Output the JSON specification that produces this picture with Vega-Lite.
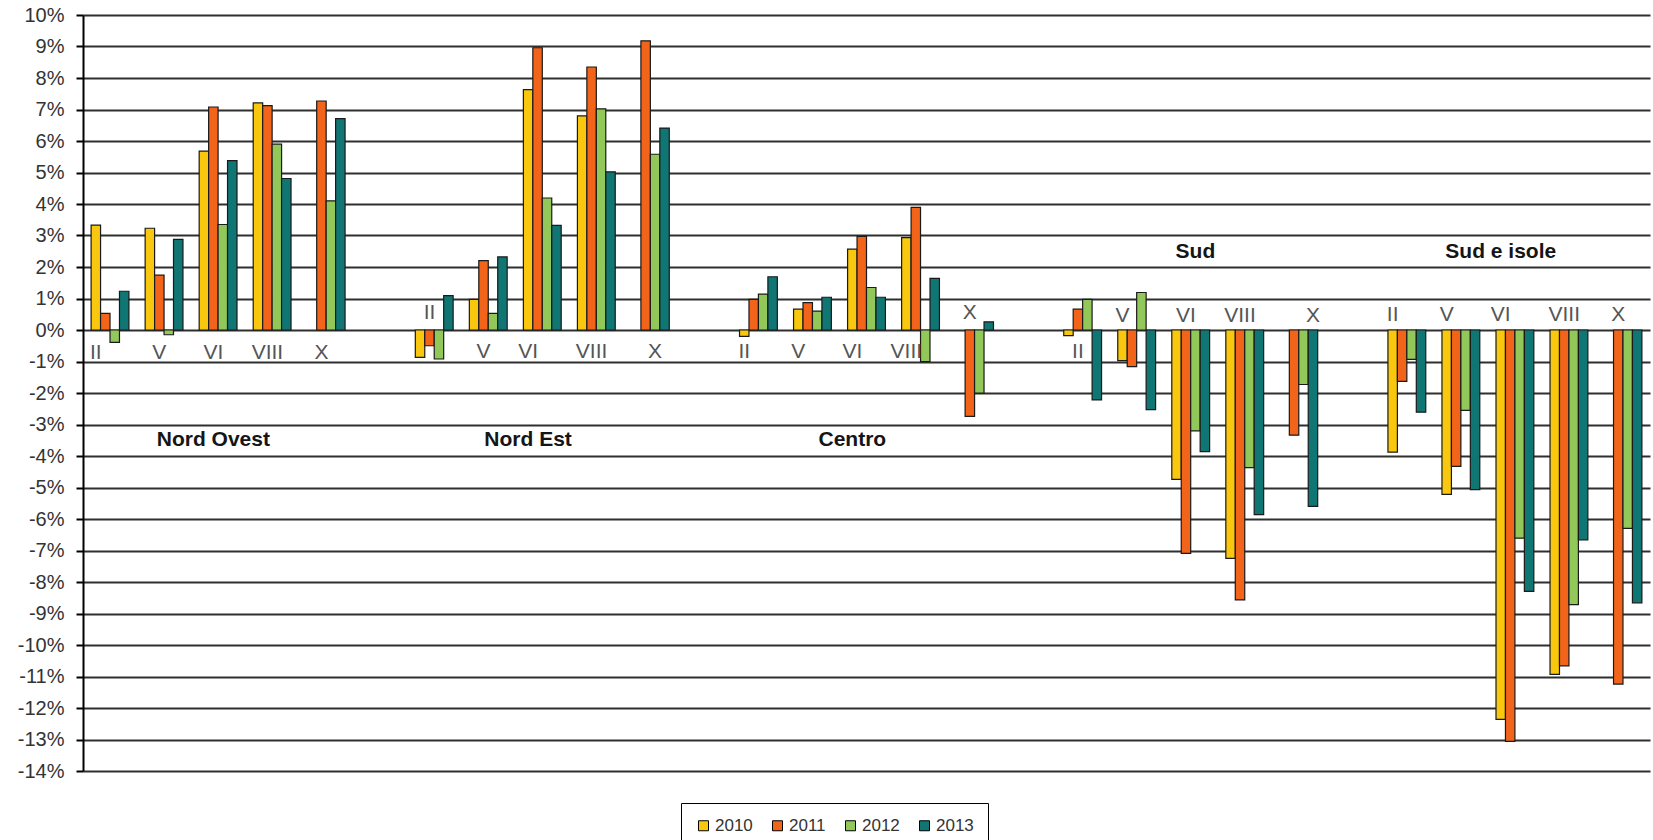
{
  "$schema": "https://vega.github.io/schema/vega-lite/v6.json",
  "autosize": {"type": "none"},
  "width": 1567,
  "height": 756,
  "padding": {"left": 83, "top": 15, "right": 3, "bottom": 69},
  "background": "white",
  "config": {"view": {"stroke": null}, "font": "Liberation Sans"},
  "datasets": {
    "bars": [
      {"slot": "NO|II", "year": "2010", "value": 3.33}, {"slot": "NO|II", "year": "2011", "value": 0.53}, {"slot": "NO|II", "year": "2012", "value": -0.39}, {"slot": "NO|II", "year": "2013", "value": 1.23},
      {"slot": "NO|V", "year": "2010", "value": 3.23}, {"slot": "NO|V", "year": "2011", "value": 1.74}, {"slot": "NO|V", "year": "2012", "value": -0.15}, {"slot": "NO|V", "year": "2013", "value": 2.88},
      {"slot": "NO|VI", "year": "2010", "value": 5.68}, {"slot": "NO|VI", "year": "2011", "value": 7.08}, {"slot": "NO|VI", "year": "2012", "value": 3.35}, {"slot": "NO|VI", "year": "2013", "value": 5.38},
      {"slot": "NO|VIII", "year": "2010", "value": 7.21}, {"slot": "NO|VIII", "year": "2011", "value": 7.12}, {"slot": "NO|VIII", "year": "2012", "value": 5.9}, {"slot": "NO|VIII", "year": "2013", "value": 4.81},
      {"slot": "NO|X", "year": "2011", "value": 7.27}, {"slot": "NO|X", "year": "2012", "value": 4.1}, {"slot": "NO|X", "year": "2013", "value": 6.71},
      {"slot": "NE|II", "year": "2010", "value": -0.87}, {"slot": "NE|II", "year": "2011", "value": -0.5}, {"slot": "NE|II", "year": "2012", "value": -0.92}, {"slot": "NE|II", "year": "2013", "value": 1.09},
      {"slot": "NE|V", "year": "2010", "value": 0.97}, {"slot": "NE|V", "year": "2011", "value": 2.2}, {"slot": "NE|V", "year": "2012", "value": 0.53}, {"slot": "NE|V", "year": "2013", "value": 2.32},
      {"slot": "NE|VI", "year": "2010", "value": 7.63}, {"slot": "NE|VI", "year": "2011", "value": 8.96}, {"slot": "NE|VI", "year": "2012", "value": 4.19}, {"slot": "NE|VI", "year": "2013", "value": 3.32},
      {"slot": "NE|VIII", "year": "2010", "value": 6.8}, {"slot": "NE|VIII", "year": "2011", "value": 8.35}, {"slot": "NE|VIII", "year": "2012", "value": 7.02}, {"slot": "NE|VIII", "year": "2013", "value": 5.02},
      {"slot": "NE|X", "year": "2011", "value": 9.18}, {"slot": "NE|X", "year": "2012", "value": 5.58}, {"slot": "NE|X", "year": "2013", "value": 6.41},
      {"slot": "C|II", "year": "2010", "value": -0.2}, {"slot": "C|II", "year": "2011", "value": 0.97}, {"slot": "C|II", "year": "2012", "value": 1.14}, {"slot": "C|II", "year": "2013", "value": 1.69},
      {"slot": "C|V", "year": "2010", "value": 0.66}, {"slot": "C|V", "year": "2011", "value": 0.87}, {"slot": "C|V", "year": "2012", "value": 0.6}, {"slot": "C|V", "year": "2013", "value": 1.04},
      {"slot": "C|VI", "year": "2010", "value": 2.57}, {"slot": "C|VI", "year": "2011", "value": 2.97}, {"slot": "C|VI", "year": "2012", "value": 1.35}, {"slot": "C|VI", "year": "2013", "value": 1.04},
      {"slot": "C|VIII", "year": "2010", "value": 2.93}, {"slot": "C|VIII", "year": "2011", "value": 3.89}, {"slot": "C|VIII", "year": "2012", "value": -1.0}, {"slot": "C|VIII", "year": "2013", "value": 1.64},
      {"slot": "C|X", "year": "2011", "value": -2.74}, {"slot": "C|X", "year": "2012", "value": -2.0}, {"slot": "C|X", "year": "2013", "value": 0.26},
      {"slot": "S|II", "year": "2010", "value": -0.18}, {"slot": "S|II", "year": "2011", "value": 0.66}, {"slot": "S|II", "year": "2012", "value": 0.97}, {"slot": "S|II", "year": "2013", "value": -2.22},
      {"slot": "S|V", "year": "2010", "value": -0.97}, {"slot": "S|V", "year": "2011", "value": -1.16}, {"slot": "S|V", "year": "2012", "value": 1.19}, {"slot": "S|V", "year": "2013", "value": -2.53},
      {"slot": "S|VI", "year": "2010", "value": -4.74}, {"slot": "S|VI", "year": "2011", "value": -7.09}, {"slot": "S|VI", "year": "2012", "value": -3.2}, {"slot": "S|VI", "year": "2013", "value": -3.86},
      {"slot": "S|VIII", "year": "2010", "value": -7.25}, {"slot": "S|VIII", "year": "2011", "value": -8.57}, {"slot": "S|VIII", "year": "2012", "value": -4.37}, {"slot": "S|VIII", "year": "2013", "value": -5.86},
      {"slot": "S|X", "year": "2011", "value": -3.34}, {"slot": "S|X", "year": "2012", "value": -1.73}, {"slot": "S|X", "year": "2013", "value": -5.6},
      {"slot": "SI|II", "year": "2010", "value": -3.88}, {"slot": "SI|II", "year": "2011", "value": -1.63}, {"slot": "SI|II", "year": "2012", "value": -0.93}, {"slot": "SI|II", "year": "2013", "value": -2.61},
      {"slot": "SI|V", "year": "2010", "value": -5.22}, {"slot": "SI|V", "year": "2011", "value": -4.33}, {"slot": "SI|V", "year": "2012", "value": -2.55}, {"slot": "SI|V", "year": "2013", "value": -5.07},
      {"slot": "SI|VI", "year": "2010", "value": -12.36}, {"slot": "SI|VI", "year": "2011", "value": -13.06}, {"slot": "SI|VI", "year": "2012", "value": -6.61}, {"slot": "SI|VI", "year": "2013", "value": -8.3},
      {"slot": "SI|VIII", "year": "2010", "value": -10.93}, {"slot": "SI|VIII", "year": "2011", "value": -10.66}, {"slot": "SI|VIII", "year": "2012", "value": -8.72}, {"slot": "SI|VIII", "year": "2013", "value": -6.66},
      {"slot": "SI|X", "year": "2011", "value": -11.24}, {"slot": "SI|X", "year": "2012", "value": -6.3}, {"slot": "SI|X", "year": "2013", "value": -8.66}
    ],
    "cats": [
      {"slot": "NO|II", "year": "2010", "value": -0.73, "label": "II"},
      {"slot": "NO|V", "year": "2011", "value": -0.73, "label": "V"},
      {"slot": "NO|VI", "year": "2011", "value": -0.73, "label": "VI"},
      {"slot": "NO|VIII", "year": "2011", "value": -0.73, "label": "VIII"},
      {"slot": "NO|X", "year": "2011", "value": -0.73, "label": "X"},
      {"slot": "NE|II", "year": "2011", "value": 0.54, "label": "II"},
      {"slot": "NE|V", "year": "2011", "value": -0.69, "label": "V"},
      {"slot": "NE|VI", "year": "2010", "value": -0.69, "label": "VI"},
      {"slot": "NE|VIII", "year": "2011", "value": -0.69, "label": "VIII"},
      {"slot": "NE|X", "year": "2012", "value": -0.69, "label": "X"},
      {"slot": "C|II", "year": "2010", "value": -0.69, "label": "II"},
      {"slot": "C|V", "year": "2010", "value": -0.69, "label": "V"},
      {"slot": "C|VI", "year": "2010", "value": -0.69, "label": "VI"},
      {"slot": "C|VIII", "year": "2010", "value": -0.69, "label": "VIII"},
      {"slot": "C|X", "year": "2011", "value": 0.54, "label": "X"},
      {"slot": "S|II", "year": "2011", "value": -0.69, "label": "II"},
      {"slot": "S|V", "year": "2010", "value": 0.43, "label": "V"},
      {"slot": "S|VI", "year": "2011", "value": 0.43, "label": "VI"},
      {"slot": "S|VIII", "year": "2011", "value": 0.43, "label": "VIII"},
      {"slot": "S|X", "year": "2013", "value": 0.43, "label": "X"},
      {"slot": "SI|II", "year": "2010", "value": 0.48, "label": "II"},
      {"slot": "SI|V", "year": "2010", "value": 0.48, "label": "V"},
      {"slot": "SI|VI", "year": "2010", "value": 0.48, "label": "VI"},
      {"slot": "SI|VIII", "year": "2011", "value": 0.48, "label": "VIII"},
      {"slot": "SI|X", "year": "2011", "value": 0.48, "label": "X"}
    ],
    "regions": [
      {"slot": "NO|VI", "year": "2011", "value": -3.5, "label": "Nord Ovest"},
      {"slot": "NE|VI", "year": "2010", "value": -3.5, "label": "Nord Est"},
      {"slot": "C|VI", "year": "2010", "value": -3.5, "label": "Centro"},
      {"slot": "S|VI", "year": "2012", "value": 2.48, "label": "Sud"},
      {"slot": "SI|VI", "year": "2010", "value": 2.48, "label": "Sud e isole"}
    ]
  },
  "encoding": {
    "x": {
      "field": "slot", "type": "nominal",
      "scale": {
        "domain": ["NO|II", "NO|V", "NO|VI", "NO|VIII", "NO|X", "gap1", "NE|II", "NE|V", "NE|VI", "NE|VIII", "NE|X", "gap2", "C|II", "C|V", "C|VI", "C|VIII", "C|X", "gap3", "S|II", "S|V", "S|VI", "S|VIII", "S|X", "gap4", "SI|II", "SI|V", "SI|VI", "SI|VIII", "SI|X"],
        "paddingInner": 0.3, "paddingOuter": 0.15
      },
      "axis": null
    },
    "xOffset": {
      "field": "year", "type": "nominal",
      "scale": {"domain": ["2010", "2011", "2012", "2013"], "paddingInner": 0, "paddingOuter": 0}
    },
    "y": {
      "field": "value", "type": "quantitative",
      "scale": {"domain": [-14, 10], "nice": false, "zero": false},
      "axis": {
        "title": null,
        "values": [-14, -13, -12, -11, -10, -9, -8, -7, -6, -5, -4, -3, -2, -1, 0, 1, 2, 3, 4, 5, 6, 7, 8, 9, 10],
        "labelExpr": "datum.value + '%'",
        "grid": true, "gridColor": "#2f2f2f", "gridWidth": 2, "gridOpacity": 1,
        "domainColor": "#000", "domainWidth": 2,
        "tickColor": "#000", "tickWidth": 2, "tickSize": 7,
        "labelFont": "Liberation Sans", "labelFontSize": 20, "labelColor": "#333", "labelPadding": 12
      }
    }
  },
  "layer": [
    {
      "data": {"name": "bars"},
      "mark": {"type": "bar", "stroke": "#1a1a1a", "strokeWidth": 1.2},
      "encoding": {
        "color": {
          "field": "year", "type": "nominal",
          "scale": {"domain": ["2010", "2011", "2012", "2013"], "range": ["#F9C80E", "#F26419", "#92C85A", "#107674"]},
          "legend": {
            "title": null, "orient": "none", "direction": "horizontal", "columns": 4,
            "legendX": 598, "legendY": 788,
            "strokeColor": "#000", "fillColor": "white", "padding": 14,
            "symbolType": "square", "symbolSize": 100, "symbolStrokeColor": "#000", "symbolStrokeWidth": 1,
            "labelFont": "Liberation Sans", "labelFontSize": 17, "labelColor": "#333", "labelOffset": 3,
            "columnPadding": 16
          }
        }
      }
    },
    {
      "data": {"name": "cats"},
      "mark": {"type": "text", "font": "Liberation Sans", "fontSize": 21, "color": "#555", "baseline": "middle", "align": "center"},
      "encoding": {"text": {"field": "label", "type": "nominal"}}
    },
    {
      "data": {"name": "regions"},
      "mark": {"type": "text", "font": "Liberation Sans", "fontSize": 21, "fontWeight": "bold", "color": "#151515", "baseline": "middle", "align": "center"},
      "encoding": {"text": {"field": "label", "type": "nominal"}}
    }
  ]
}
